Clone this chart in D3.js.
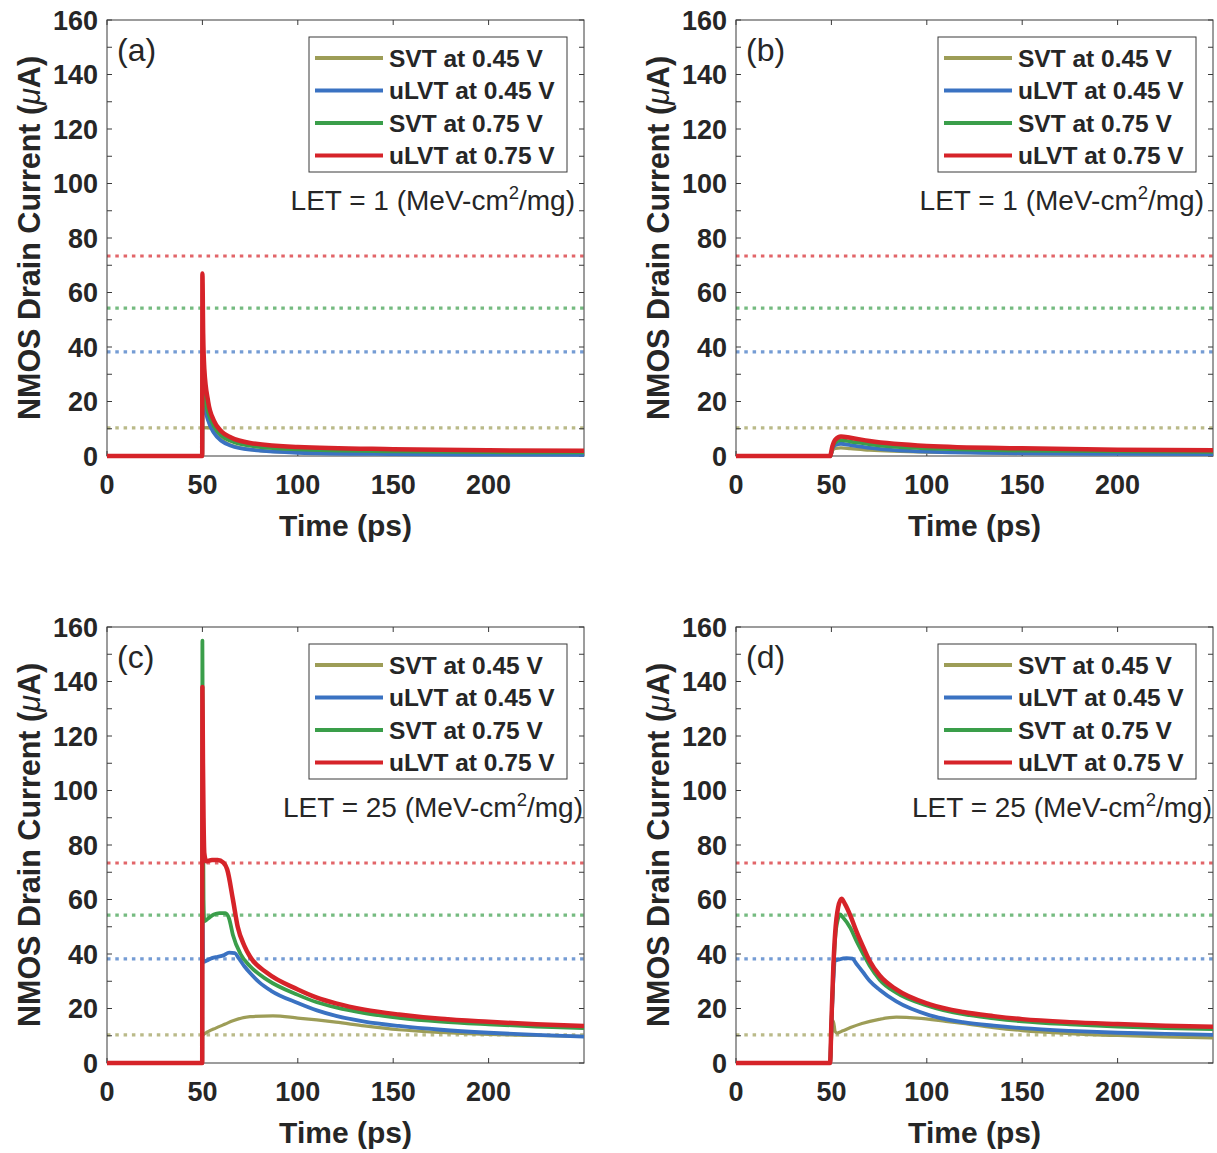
<!DOCTYPE html>
<html lang="en">
<head>
<meta charset="UTF-8">
<title>NMOS drain current</title>
<script src="https://cdn.jsdelivr.net/npm/d3@7"></script>
<style>
  body { margin: 0; background: #fff; }
  text { font-family: "Liberation Sans", Arial, sans-serif; fill: #262626; }
</style>
</head>
<body>
<svg></svg>
<script>
    // ---- data ----
    const seriesNames = ['SVT at 0.45 V', 'uLVT at 0.45 V', 'SVT at 0.75 V', 'uLVT at 0.75 V'];
    const thresholds = [10.3, 38.2, 54.3, 73.4]; // same order as seriesNames
    const panelLabels = ['(a)', '(b)', '(c)', '(d)'];
    const letValues = ['1', '1', '25', '25'];
    const timeTicks = [0, 50, 100, 150, 200];
    const currentTicks = [0, 20, 40, 60, 80, 100, 120, 140, 160];
    const currentMinorTicks = [10, 30, 50, 70, 90, 110, 130, 150];

    // (a) LET = 1
    const svtLowA = [[0, 0], [49.9, 0], [50, 10.3], [53, 10.4], [55.5, 10.2], [58, 7.5], [62, 5], [70, 3], [80, 2], [100, 1.4], [150, 1], [200, 0.9], [250, 0.8]];
    const ulvtLowA = [[0, 0], [49.9, 0], [50.1, 25], [51, 19], [53, 13], [56, 8.5], [60, 5.5], [65, 3.8], [75, 2.3], [100, 1.2], [150, 0.7], [200, 0.5], [250, 0.4]];
    const svtHighA = [[0, 0], [49.9, 0], [50.1, 28], [51, 22], [53, 16], [56, 11], [60, 7.5], [65, 5.5], [75, 3.8], [100, 2.4], [150, 1.7], [200, 1.4], [250, 1.3]];
    const ulvtHighA = [[0, 0], [49.9, 0], [50, 67], [50.4, 45], [51, 32], [53, 20], [56, 13], [60, 9], [65, 6.8], [75, 4.8], [100, 3.3], [150, 2.5], [200, 2.1], [250, 1.9]];

    // (b) LET = 1
    const svtLowB = [[0, 0], [49.5, 0], [50.5, 2], [52, 2.8], [55, 3], [60, 2.7], [70, 2.1], [100, 1.4], [150, 1.1], [200, 1], [250, 0.9]];
    const ulvtLowB = [[0, 0], [49.5, 0], [50.5, 2.5], [52, 4], [55, 4.5], [60, 4], [70, 3], [100, 1.6], [150, 1], [200, 0.8], [250, 0.7]];
    const svtHighB = [[0, 0], [49.5, 0], [50.5, 3], [52, 5], [55, 5.8], [60, 5.3], [70, 4.3], [100, 2.8], [150, 2], [200, 1.7], [250, 1.5]];
    const ulvtHighB = [[0, 0], [49.3, 0], [50.5, 3.5], [52, 6], [55, 7.2], [60, 6.7], [70, 5.5], [100, 3.7], [150, 2.8], [200, 2.3], [250, 2.1]];

    // (c) LET = 25
    const svtLowC = [[0, 0], [49.9, 0], [50, 10], [53, 11.5], [57, 12.8], [62, 14.3], [66, 15.5], [75, 17], [87, 17.3], [100, 16.5], [110, 15.8], [120, 15], [135, 13.6], [153, 12.2], [175, 11.2], [200, 10.5], [225, 10.1], [250, 9.8]];
    const ulvtLowC = [[0, 0], [49.9, 0], [50, 60], [50.4, 37], [52, 37.5], [55, 38.5], [58, 39], [61, 39.5], [64, 40.5], [67, 40.3], [69, 38.5], [72, 35.5], [75, 33], [80, 29.5], [86, 26.5], [100, 22], [110, 19.3], [120, 17.3], [135, 15.2], [153, 13.6], [175, 12.2], [200, 11.1], [225, 10.3], [250, 9.7]];
    const svtHighC = [[0, 0], [49.9, 0], [50, 155], [50.3, 100], [50.6, 60], [51, 52], [53, 53], [56, 54.5], [59, 55], [62, 55], [64, 53], [66, 47], [70, 40], [75, 35.5], [84, 30.5], [100, 25], [110, 22.3], [120, 20.4], [135, 18.3], [153, 16.6], [175, 15.2], [200, 14.2], [225, 13.4], [250, 12.8]];
    const ulvtHighC = [[0, 0], [49.9, 0], [50, 138], [50.3, 110], [50.6, 90], [51, 77], [52, 74], [55, 74.5], [58, 74.5], [61, 73.5], [63, 71], [66, 60], [68.5, 50], [72, 43], [75, 39], [84, 33], [100, 27], [110, 24], [120, 21.9], [135, 19.6], [153, 17.8], [175, 16.2], [200, 15.1], [225, 14.2], [250, 13.6]];

    // (d) LET = 25
    const svtLowD = [[0, 0], [49.3, 0], [50, 8], [51, 15.5], [52, 11.5], [53, 11], [56, 11.8], [60, 13], [66, 14.5], [75, 16], [84, 16.8], [95, 16.5], [110, 15.3], [119, 14.5], [135, 13], [150, 11.9], [175, 10.8], [200, 10.1], [225, 9.6], [250, 9.2]];
    const ulvtLowD = [[0, 0], [49.3, 0], [50, 13], [51, 30], [52, 37.5], [54, 38], [58, 38.5], [61, 38.3], [63, 36.5], [66.7, 33.2], [70, 30.2], [75.4, 26.8], [84, 22.6], [101.6, 17.5], [119, 15], [135, 13.7], [150, 12.8], [175, 11.8], [200, 11.1], [225, 10.7], [250, 10.3]];
    const svtHighD = [[0, 0], [49.3, 0], [50, 14], [51, 33], [52, 46], [53.5, 53], [54.5, 54.5], [56, 53.5], [60, 49.5], [63, 45], [66.7, 40], [70, 35.8], [75.4, 30.5], [84, 25.8], [101.6, 20.8], [119, 17.9], [135, 16.4], [150, 15.3], [175, 14.2], [200, 13.4], [225, 12.8], [250, 12.4]];
    const ulvtHighD = [[0, 0], [49.3, 0], [50, 15], [51, 35], [52, 48], [53.5, 57], [55.3, 60.3], [57, 58.5], [60, 54], [63, 48.5], [66.7, 42.5], [70, 37.5], [75.4, 32], [84, 27], [101.6, 21.5], [119, 18.7], [135, 17.2], [150, 16.1], [175, 15], [200, 14.3], [225, 13.7], [250, 13.3]];

    const panelSeries = [
        [svtLowA, ulvtLowA, svtHighA, ulvtHighA],
        [svtLowB, ulvtLowB, svtHighB, ulvtHighB],
        [svtLowC, ulvtLowC, svtHighC, ulvtHighC],
        [svtLowD, ulvtLowD, svtHighD, ulvtHighD]
    ];

    // ---- styling ----
    const colors = ['#9d9d57', '#3a72c2', '#3a9e4a', '#d62329'];
    const widths = [3.2, 3.8, 3.8, 4.5];
    const width = 1217, height = 1153;
    const plotW = 477, plotH = 436;
    const origins = [[107, 20], [736, 20], [107, 627], [736, 627]];

    const svg = d3.select('svg')
        .attr('width', width)
        .attr('height', height);

    const x = d3.scaleLinear().domain([0, 250]).range([0, plotW]);
    const y = d3.scaleLinear().domain([0, 160]).range([plotH, 0]);

    const line = d3.line()
        .x(d => x(d[0]))
        .y(d => y(d[1]))
        .curve(d3.curveMonotoneX);

    origins.forEach(([ox, oy], p) => {
        const g = svg.append('g').attr('transform', `translate(${ox}, ${oy})`);

        // threshold lines
        g.selectAll('.thr')
            .data(thresholds)
            .join('line')
            .attr('x1', 0).attr('x2', plotW)
            .attr('y1', d => y(d)).attr('y2', d => y(d))
            .attr('stroke', (d, i) => colors[i])
            .attr('stroke-opacity', 0.7)
            .attr('stroke-width', 3.2)
            .attr('stroke-dasharray', '3.5,4.8');

        // box and ticks
        g.append('rect')
            .attr('width', plotW).attr('height', plotH)
            .attr('fill', 'none')
            .attr('stroke', '#3a3a3a')
            .attr('stroke-width', 1);

        const yTicks = currentTicks.concat(currentMinorTicks);
        g.selectAll('.ytl')
            .data(yTicks)
            .join('line')
            .attr('x1', 0).attr('x2', 5)
            .attr('y1', d => y(d)).attr('y2', d => y(d))
            .attr('stroke', '#3a3a3a');
        g.selectAll('.ytr')
            .data(yTicks)
            .join('line')
            .attr('class', 'ytr')
            .attr('x1', plotW - 5).attr('x2', plotW)
            .attr('y1', d => y(d)).attr('y2', d => y(d))
            .attr('stroke', '#3a3a3a');
        g.selectAll('.xtb')
            .data(timeTicks)
            .join('line')
            .attr('class', 'xtb')
            .attr('x1', d => x(d)).attr('x2', d => x(d))
            .attr('y1', plotH).attr('y2', plotH - 5)
            .attr('stroke', '#3a3a3a');
        g.selectAll('.xtt')
            .data(timeTicks)
            .join('line')
            .attr('class', 'xtt')
            .attr('x1', d => x(d)).attr('x2', d => x(d))
            .attr('y1', 0).attr('y2', 5)
            .attr('stroke', '#3a3a3a');

        // tick labels
        g.selectAll('.ylab')
            .data(currentTicks)
            .join('text')
            .attr('class', 'ylab')
            .attr('x', -9)
            .attr('y', d => y(d))
            .attr('dy', '0.36em')
            .attr('text-anchor', 'end')
            .attr('font-size', 27)
            .attr('font-weight', 'bold')
            .text(d => d);
        g.selectAll('.xlab')
            .data(timeTicks)
            .join('text')
            .attr('class', 'xlab')
            .attr('x', d => x(d))
            .attr('y', plotH + 38)
            .attr('text-anchor', 'middle')
            .attr('font-size', 27)
            .attr('font-weight', 'bold')
            .text(d => d);

        // axis titles
        g.append('text')
            .attr('x', plotW / 2)
            .attr('y', plotH + 80)
            .attr('text-anchor', 'middle')
            .attr('font-size', 30)
            .attr('font-weight', 'bold')
            .text('Time (ps)');
        const yt = g.append('text')
            .attr('transform', `translate(-67, ${plotH / 2}) rotate(-90)`)
            .attr('text-anchor', 'middle')
            .attr('font-size', 30.5)
            .attr('font-weight', 'bold');
        yt.append('tspan').text('NMOS Drain Current (');
        yt.append('tspan').attr('font-style', 'italic').attr('font-weight', 'normal').text('\u03bc');
        yt.append('tspan').text('A)');

        // curves
        g.selectAll('.curve')
            .data(panelSeries[p])
            .join('path')
            .attr('class', 'curve')
            .attr('d', line)
            .attr('fill', 'none')
            .attr('stroke', (d, i) => colors[i])
            .attr('stroke-width', (d, i) => widths[i])
            .attr('stroke-linejoin', 'round');

        // panel label
        g.append('text')
            .attr('x', 10)
            .attr('y', 41)
            .attr('font-size', 32)
            .text(panelLabels[p]);

        // legend
        const lg = g.append('g').attr('transform', 'translate(202, 17)');
        lg.append('rect')
            .attr('width', 258).attr('height', 135)
            .attr('fill', '#fff')
            .attr('stroke', '#3a3a3a')
            .attr('stroke-width', 1);
        const items = lg.selectAll('.item')
            .data(seriesNames)
            .join('g')
            .attr('class', 'item')
            .attr('transform', (d, i) => `translate(0, ${21 + i * 32.5})`);
        items.append('line')
            .attr('x1', 6).attr('x2', 74)
            .attr('stroke', (d, i) => colors[i])
            .attr('stroke-width', 4);
        items.append('text')
            .attr('x', 80)
            .attr('dy', '0.36em')
            .attr('font-size', 24.5)
            .attr('font-weight', 'bold')
            .text(d => d);

        // LET annotation
        const let_ = g.append('text')
            .attr('x', p < 2 ? 468 : 476)
            .attr('y', 190)
            .attr('text-anchor', 'end')
            .attr('font-size', 28);
        let_.append('tspan').text(`LET = ${letValues[p]} (MeV-cm`);
        let_.append('tspan').attr('dy', -11).attr('font-size', 18.5).text('2');
        let_.append('tspan').attr('dy', 11).text('/mg)');
    });
</script>
</body>
</html>
